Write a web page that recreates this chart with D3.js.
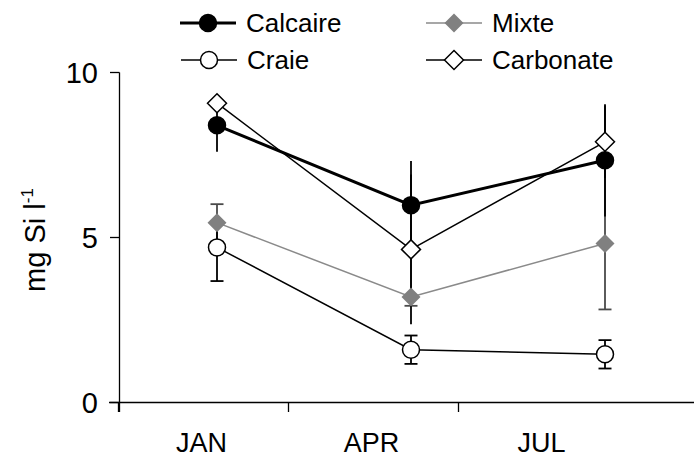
<!DOCTYPE html>
<html>
<head>
<meta charset="utf-8">
<script src="https://cdn.jsdelivr.net/npm/d3@7"></script>
<style>
    body { margin: 0; background: #fff; }
    text { font-family: "Liberation Sans", Arial, sans-serif; fill: #000; }
</style>
</head>
<body>
<div id="display-container"></div>
<script>
// data (upper / lower arms read separately)
var months = ["JAN", "APR", "JUL"];
var seriesNames = ["Calcaire", "Mixte", "Craie", "Carbonate"];
var calcaire = [8.4, 5.98, 7.34];
var calcaireErrUp = [0.8, 1.34, 1.7];
var calcaireErrDown = [0.8, 1.34, 1.7];
var mixte = [5.45, 3.2, 4.82];
var mixteErrUp = [0.56, 1.44, 2.52];
var mixteErrDown = [0.75, 0.27, 2.0];
var craie = [4.7, 1.6, 1.46];
var craieErrUp = [0.74, 0.43, 0.43];
var craieErrDown = [1.02, 0.43, 0.43];
var carbonate = [9.07, 4.64, 7.9];
var carbonateErrUp = [0.25, 2.27, 1.1];
var carbonateErrDown = [0.25, 2.27, 1.1];
var yTicks = [0, 5, 10];

var width = 694;
var height = 458;

var svg = d3.select("#display-container").append("svg")
    .attr("width", width)
    .attr("height", height);

var y = d3.scaleLinear().domain([0, 10]).range([402.5, 72.5]);
// label bands and the points are offset from each other in the original
var xBand = d3.scaleBand().domain(months).range([118.5, 628.5]);
var xPoint = d3.scalePoint().domain(months).range([217, 605]);

function diamond(r){
    return "M0," + (-r) + "L" + r + ",0L0," + r + "L" + (-r) + ",0Z";
}

var series = [
    {name: "Mixte", values: mixte, up: mixteErrUp, down: mixteErrDown, line: "#8a8a8a", lw: 1.5, shape: "diamond", fill: "#808080", stroke: "none", cap: true, bar: "#4a4a4a"},
    {name: "Craie", values: craie, up: craieErrUp, down: craieErrDown, line: "#000", lw: 1.5, shape: "circle", fill: "#fff", stroke: "#000", cap: true, bar: "#000"},
    {name: "Carbonate", values: carbonate, up: carbonateErrUp, down: carbonateErrDown, line: "#000", lw: 1.5, shape: "diamond", fill: "#fff", stroke: "#000", cap: false, bar: "#000"},
    {name: "Calcaire", values: calcaire, up: calcaireErrUp, down: calcaireErrDown, line: "#000", lw: 3, shape: "circle", fill: "#000", stroke: "#000", cap: false, bar: "#000"}
];

// axes
var axis = svg.append("g").attr("stroke", "#000").attr("stroke-width", 1.3);
axis.append("line").attr("x1", 109).attr("x2", width).attr("y1", y(0)).attr("y2", y(0));
axis.append("line").attr("x1", 119.5).attr("x2", 119.5).attr("y1", y(10)).attr("y2", y(0) + 9.5);
axis.selectAll(".ytick").data(yTicks).enter().append("line")
    .attr("x1", 110).attr("x2", 119.5)
    .attr("y1", function(d){ return y(d); })
    .attr("y2", function(d){ return y(d); });
axis.selectAll(".xtick").data(months).enter().append("line")
    .attr("x1", function(d){ return xBand(d); })
    .attr("x2", function(d){ return xBand(d); })
    .attr("y1", y(0)).attr("y2", y(0) + 9.5);

svg.selectAll(".ylab").data(yTicks).enter().append("text")
    .attr("x", 98)
    .attr("y", function(d){ return y(d); })
    .attr("dy", "0.37em")
    .attr("text-anchor", "end")
    .style("font-size", "29px")
    .text(function(d){ return d; });

svg.selectAll(".xlab").data(months).enter().append("text")
    .attr("x", function(d){ return xBand(d) + xBand.bandwidth() / 2 - 2; })
    .attr("y", 452)
    .attr("text-anchor", "middle")
    .style("font-size", "27px")
    .text(function(d){ return d; });

var ylabel = svg.append("text")
    .attr("transform", "translate(45,240) rotate(-90)")
    .attr("text-anchor", "middle")
    .style("font-size", "29px");
ylabel.append("tspan").text("mg Si l");
ylabel.append("tspan").attr("dy", -12).style("font-size", "17px").text("-1");

// error bars first, black ones after the grey one
series.forEach(function(s){
    var g = svg.append("g").attr("stroke", s.bar).attr("stroke-width", 1.8);
    g.selectAll("line.eb").data(s.values).enter().append("line")
        .attr("x1", function(d, i){ return xPoint(months[i]); })
        .attr("x2", function(d, i){ return xPoint(months[i]); })
        .attr("y1", function(d, i){ return y(d + s.up[i]); })
        .attr("y2", function(d, i){ return y(d - s.down[i]); });
    if(s.cap){
        [s.up, s.down.map(function(e){ return -e; })].forEach(function(offs){
            g.selectAll(null).data(s.values).enter().append("line")
                .attr("x1", function(d, i){ return xPoint(months[i]) - 6.5; })
                .attr("x2", function(d, i){ return xPoint(months[i]) + 6.5; })
                .attr("y1", function(d, i){ return y(d + offs[i]); })
                .attr("y2", function(d, i){ return y(d + offs[i]); });
        });
    }
});

var line = d3.line()
    .x(function(d, i){ return xPoint(months[i]); })
    .y(function(d){ return y(d); });

series.forEach(function(s){
    svg.append("path")
        .datum(s.values)
        .attr("fill", "none")
        .attr("stroke", s.line)
        .attr("stroke-width", s.lw)
        .attr("d", line);
});

function drawMarker(g, s, cx, cy){
    if(s.shape == "circle"){
        g.append("circle").attr("cx", cx).attr("cy", cy).attr("r", 8.5)
            .attr("fill", s.fill).attr("stroke", s.stroke).attr("stroke-width", 1.5);
    }else{
        g.append("path").attr("d", diamond(9.5))
            .attr("transform", "translate(" + cx + "," + cy + ")")
            .attr("fill", s.fill).attr("stroke", s.stroke).attr("stroke-width", 1.5);
    }
}

series.forEach(function(s){
    var g = svg.append("g");
    s.values.forEach(function(v, i){
        drawMarker(g, s, xPoint(months[i]), y(v));
    });
});

// legend
var legendPos = {
    "Calcaire": [180, 23],
    "Mixte": [426, 23],
    "Craie": [181, 60],
    "Carbonate": [426, 60]
};
seriesNames.forEach(function(name){
    var s = series.filter(function(d){ return d.name == name; })[0];
    var p = legendPos[name];
    var g = svg.append("g");
    g.append("line").attr("x1", p[0]).attr("x2", p[0] + 56)
        .attr("y1", p[1]).attr("y2", p[1])
        .attr("stroke", s.line).attr("stroke-width", s.lw);
    drawMarker(g, s, p[0] + 28, p[1]);
    g.append("text").attr("x", p[0] + 66).attr("y", p[1] + 9)
        .style("font-size", "26px")
        .text(name);
});
</script>
</body>
</html>
